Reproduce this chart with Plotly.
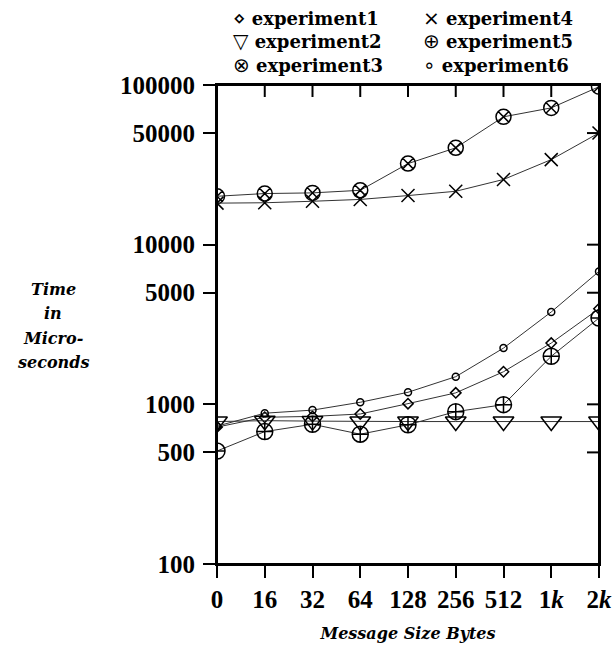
import plotly.graph_objects as go

# ---- data ----
sizes = ["0", "16", "32", "64", "128", "256", "512", "1k", "2k"]
size_labels = ["0", "16", "32", "64", "128", "256", "512", "1<i>k</i>", "2<i>k</i>"]
experiment1 = [720, 830, 840, 870, 1010, 1180, 1600, 2420, 3970]
experiment2 = [780, 790, 785, 780, 780, 780, 780, 780, 780]
experiment3 = [20100, 20900, 21100, 21900, 32200, 40400, 63200, 71900, 97500]
experiment4 = [18200, 18300, 18700, 19200, 20300, 21600, 25600, 34100, 50100]
experiment5 = [510, 675, 750, 650, 745, 900, 995, 2000, 3470]
experiment6 = [730, 880, 920, 1030, 1190, 1490, 2250, 3790, 6800]
y_ticks = [100, 500, 1000, 5000, 10000, 50000, 100000]
y_tick_text = ["100", "500", "1000", "5000", "10000", "50000", "100000"]

series = [
    ("experiment1", experiment1, "diamond-open", 8, "\u22C4"),
    ("experiment2", experiment2, "triangle-down-open", 18, "\u25BD"),
    ("experiment3", experiment3, "circle-x-open", 15, "\u2297"),
    ("experiment4", experiment4, "x-thin-open", 13, "\u00D7"),
    ("experiment5", experiment5, "circle-cross-open", 16, "\u2295"),
    ("experiment6", experiment6, "circle-open", 7, "\u2218"),
]

W, H = 615, 648
L, R, T, B = 217, 16, 85, 84
pw, ph = W - L - R, H - T - B

fig = go.Figure()
for name, vals, sym, sz, glyph in series:
    fig.add_trace(go.Scatter(
        x=sizes, y=vals, mode="lines+markers", name=name, showlegend=False,
        line=dict(color="#333333", width=1),
        marker=dict(symbol=sym, size=sz, color="black", line=dict(width=1.5, color="black")),
    ))

tick_font = dict(family="Liberation Serif", size=25, color="black", weight="bold")
title_font = dict(family="DejaVu Serif", size=16, color="black", style="italic", weight="bold")

frame = dict(showgrid=False, zeroline=False, automargin=False,
             showline=True, linewidth=2, linecolor="black", mirror=True,
             tickwidth=2, tickcolor="black", ticklen=12)

fig.update_layout(
    width=W, height=H,
    margin=dict(l=L, r=R, t=T, b=B),
    paper_bgcolor="white", plot_bgcolor="white",
    xaxis=dict(
        type="category", range=[0, len(sizes) - 1],
        tickvals=sizes, ticktext=size_labels, ticks="outside",
        tickfont=tick_font, ticklabelstandoff=0,
        title=dict(text="Message Size Bytes", font=title_font, standoff=16),
        **frame,
    ),
    yaxis=dict(
        type="log", range=[2, 5],
        tickvals=y_ticks, ticktext=y_tick_text, ticks="outside",
        tickfont=tick_font, ticklabelstandoff=3,
        **frame,
    ),
)

# plot frame (top and right sides) with inward ticks
fig.add_shape(type="rect", xref="paper", yref="paper", x0=0, x1=1, y0=0, y1=1,
              line=dict(color="black", width=2), layer="above")
for i in range(len(sizes)):
    fig.add_shape(type="line", xref="x", x0=i, x1=i,
                  yref="paper", ysizemode="pixel", yanchor=1, y0=0, y1=-12,
                  line=dict(color="black", width=2))
for v in y_ticks:
    fig.add_shape(type="line", yref="y", y0=v, y1=v,
                  xref="paper", xsizemode="pixel", xanchor=1, x0=0, x1=-12,
                  line=dict(color="black", width=2))

# y-axis title as horizontal stacked lines
for i, line in enumerate(["Time", "in", "Micro-", "seconds"]):
    fig.add_annotation(
        xref="paper", yref="paper",
        x=(53 - L) / pw, y=(H - B - (289 + 24.5 * i)) / ph,
        text=line, showarrow=False, xanchor="center", yanchor="middle",
        font=title_font,
    )

# legend: two columns of three rows, each column one text block
leg_font = dict(family="DejaVu Serif", size=18, color="black", weight="bold")
for col in range(2):
    rows = series[col * 3:(col + 1) * 3]
    lines = [
        '<span style="font-family:DejaVu Sans;font-weight:normal;font-size:20px">%s</span> %s'
        % (glyph, name)
        for name, vals, sym, sz, glyph in rows
    ]
    left = [231, 421][col]
    fig.add_annotation(
        xref="paper", yref="paper", x=(left - L) / pw, y=(H - B - 41) / ph,
        text="<br>".join(lines), showarrow=False, xanchor="left", yanchor="middle",
        align="left", font=leg_font,
    )

fig.write_html("out.html", config={"displayModeBar": False},
               post_script="document.body.style.margin='0';")
